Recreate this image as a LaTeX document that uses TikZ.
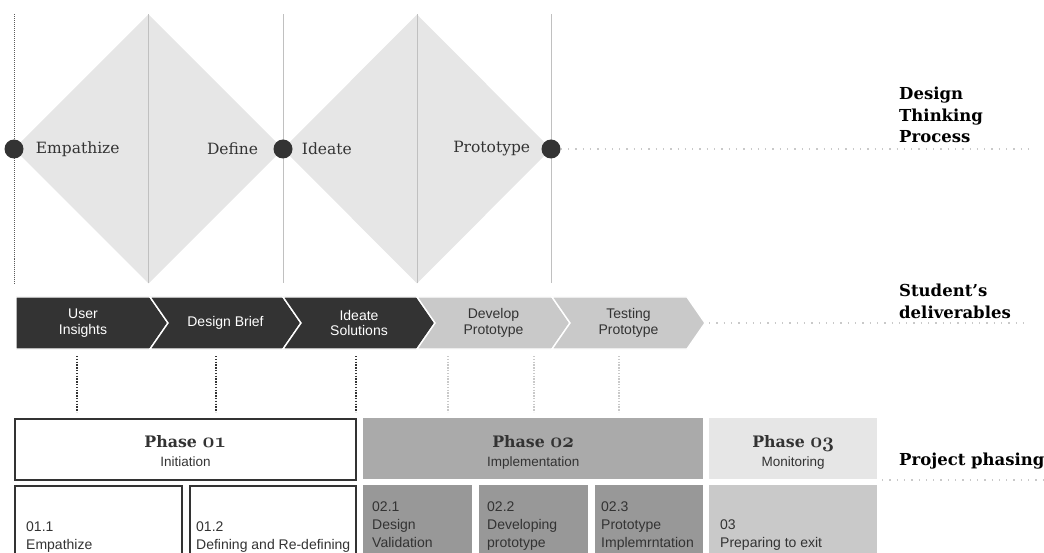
\documentclass[tikz,border=0pt]{standalone}
\usepackage{fontspec}
\newfontfamily\dtsans{Liberation Sans}
\newfontfamily\dtserif{DejaVu Serif}
\usepackage{xcolor}
\definecolor{dtink}{RGB}{51,51,51}
\definecolor{dtpale}{RGB}{230,230,230}
\definecolor{dtsoft}{RGB}{201,201,201}
\definecolor{dtmid}{RGB}{170,170,170}
\definecolor{dtdeep}{RGB}{152,152,152}
\definecolor{dtline}{RGB}{192,192,192}
\usepackage{tikz}
\usetikzlibrary{positioning,calc}
% old-style figures for the phase numbers
\newcommand\osf[1]{{\fontsize{20}{20}\selectfont\boldmath$\mathnormal{#1}$}}
\newcommand\phasehead[1]{{\dtserif\bfseries\fontsize{15.8}{19}\selectfont Phase~\osf{#1}}}
\tikzset{
  stage/.style    ={font=\dtserif\fontsize{15.5}{21}\selectfont,text=dtink,inner sep=0pt},
  heading/.style  ={font=\dtserif\bfseries\fontsize{16.5}{21.5}\selectfont,align=left,anchor=north west,inner sep=0pt},
  hub/.style      ={circle,fill=dtink,minimum size=19pt,inner sep=0pt},
  guide/.style    ={draw=dtline,line width=0.6pt},
  rim/.style      ={draw=dtink!80,line width=0.6pt,dash pattern=on 1pt off 1pt},
  trail/.style    ={draw=dtsoft,line width=1.3pt,dash pattern=on 1.3pt off 6pt},
  chevron/.style  ={draw=white,line width=1.4pt,line join=miter},
  chevtext/.style ={font=\dtsans\fontsize{14}{15.5}\selectfont,align=center,inner sep=0pt},
  tie/.style      ={dash pattern=on 1.4pt off 1.4pt},
  phasebox/.style ={rectangle,anchor=north west,minimum height=61pt,inner sep=0pt},
  phasetext/.style={align=center,inner sep=0pt,text=dtink,font=\dtsans\fontsize{13.5}{19}\selectfont},
  taskbox/.style  ={rectangle,anchor=north west,minimum height=80pt,inner sep=0pt},
  tasktext/.style ={font=\dtsans\fontsize{14}{18}\selectfont,align=left,anchor=south west,
                    text=dtink,inner sep=0pt,execute at end node=\strut},
}
\begin{document}
\begin{tikzpicture}[x=1pt,y=-1pt,node distance=12pt]
  \useasboundingbox (0,0) rectangle (1044,553);

  % double diamond
  \coordinate (w1) at (14,149);
  \coordinate (n1) at (148.5,14.5);
  \coordinate (e1) at (283,149);
  \coordinate (s1) at (148.5,283.5);
  \coordinate (n2) at (417,14.5);
  \coordinate (e2) at (551,149);
  \coordinate (s2) at (417,283.5);
  \fill[dtpale] (w1) -- (n1) -- (e1) -- (s1) -- cycle;
  \fill[dtpale] (e1) -- (n2) -- (e2) -- (s2) -- cycle;
  \draw[guide] (n1) -- (s1);
  \draw[guide] (n2) -- (s2);
  \draw[guide] (e1 |- n1) -- (e1 |- s1);
  \draw[guide] (e2 |- n1) -- (e2 |- s1);
  \draw[rim] (w1 |- n1) -- (w1 |- s1);

  \node[hub] (hubA) at (w1) {};
  \node[hub] (hubB) at (e1) {};
  \node[hub] (hubC) at (e2) {};
  \node[stage,right=12pt of hubA] (empathize) {Empathize};
  \node[stage,left=15pt of hubB] (define) {Define};
  \node[stage,right=9pt of hubB] (ideate) {Ideate};
  \node[stage,left=11pt of hubC] (prototype) {Prototype};
  \coordinate (trailA) at (1030,149);
  \draw[trail] (hubC) -- (trailA);

  \node[heading] (dtprocess) at (899,87) {Design\\Thinking\\Process};
  \node[heading] (deliverables) at (899,284) {Student’s\\deliverables};
  \node[heading,anchor=west] (phasing) at (899,461) {Project phasing};

  % deliverables bar
  \foreach \a/\b/\n/\c/\f/\t [count=\i] in {
      16/150/0/dtink/white/{User\\Insights},
      150/283/18/dtink/white/{Design Brief},
      283/417/18/dtink/white/{Ideate\\Solutions},
      417/552/18/dtsoft/dtink/{Develop\\Prototype},
      552/687/18/dtsoft/dtink/{Testing\\Prototype}}
  {
    \filldraw[chevron,fill=\c] (\a,297) -- (\b,297) -- (\b+18,323) -- (\b,349)
      -- (\a,349) -- (\a+\n,323) -- cycle;
    \node[chevtext,text=\f] (item\i) at ({(\a+\b+\n)/2},323) {\t};
  }
  \coordinate (barTip) at (709,323);
  \coordinate (trailB) at (1030,323);
  \draw[trail] (barTip) -- (trailB);

  \foreach \x/\c/\w [count=\i] in {77/dtink/2.6pt,216/dtink/2.6pt,356/dtink/2.6pt,
                                   448/dtsoft/1.2pt,534/dtsoft/1.2pt,619/dtsoft/1.2pt}
  {
    \coordinate (tieTop\i) at (\x,356);
    \coordinate (tieEnd\i) at (\x,412);
    \draw[tie,draw=\c,line width=\w] (tieTop\i) -- (tieEnd\i);
  }

  % project phasing
  \node[phasebox,draw=dtink,line width=1.8pt,minimum width=341pt] (phase1) at (14,418) {};
  \node[phasebox,fill=dtmid,minimum width=340pt] (phase2) at (363,418) {};
  \node[phasebox,fill=dtpale,minimum width=168pt] (phase3) at (709,418) {};
  \node[phasetext,below=17pt of phase1.north] (head1) {\phasehead{01}\\Initiation};
  \node[phasetext,below=17pt of phase2.north] (head2) {\phasehead{02}\\Implementation};
  \node[phasetext,below=17pt of phase3.north] (head3) {\phasehead{03}\\Monitoring};
  \coordinate (trailC) at (882,480);
  \coordinate (trailD) at (1044,480);
  \draw[trail] (trailC) -- (trailD);

  \node[taskbox,draw=dtink,line width=1.8pt,minimum width=167pt] (task11) at (14,485) {};
  \node[taskbox,draw=dtink,line width=1.8pt,minimum width=166pt] (task12) at (189,485) {};
  \node[taskbox,fill=dtdeep,minimum width=109pt] (task21) at (363,485) {};
  \node[taskbox,fill=dtdeep,minimum width=109pt] (task22) at (479,485) {};
  \node[taskbox,fill=dtdeep,minimum width=108pt] (task23) at (595,485) {};
  \node[taskbox,fill=dtsoft,minimum width=168pt] (task3) at (709,485) {};

  \node[tasktext] (note11) at ([shift={(12pt,12pt)}]task11.south west) {01.1\\Empathize};
  \node[tasktext] (note12) at ([shift={(7pt,12pt)}]task12.south west) {01.2\\Defining and Re-defining};
  \node[tasktext] (note21) at ([shift={(9pt,12pt)}]task21.south west) {02.1\\Design\\Validation};
  \node[tasktext] (note22) at ([shift={(8pt,12pt)}]task22.south west) {02.2\\Developing\\prototype};
  \node[tasktext] (note23) at ([shift={(6pt,12pt)}]task23.south west) {02.3\\Prototype\\Implemrntation};
  \node[tasktext] (note3) at ([shift={(11pt,12pt)}]task3.south west) {03\\Preparing to exit};
\end{tikzpicture}
\end{document}
